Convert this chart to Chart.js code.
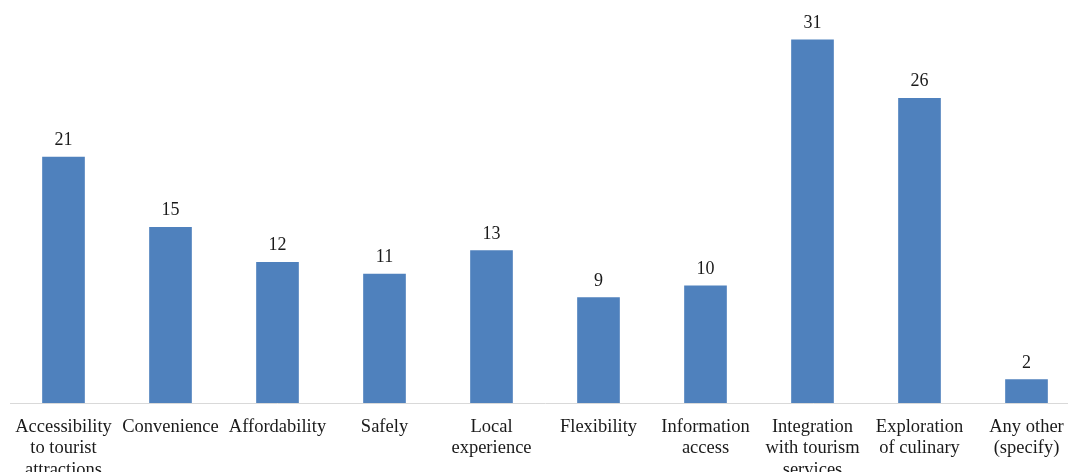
<!DOCTYPE html>
<html>
<head>
<meta charset="utf-8">
<script src="https://cdn.jsdelivr.net/npm/chart.js@4.4.1/dist/chart.umd.min.js"></script>
<style>
  html, body { margin: 0; padding: 0; background: #ffffff; overflow: hidden; }
  #wrap { position: relative; width: 1090px; height: 472px; }
</style>
</head>
<body>
<div id="wrap"><canvas id="barChart"></canvas></div>
<script>
  // ----------------------------- Data ---------------------------------------
  const categories = [
    ['Accessibility', 'to tourist', 'attractions'],
    ['Convenience'],
    ['Affordability'],
    ['Safely'],
    ['Local', 'experience'],
    ['Flexibility'],
    ['Information', 'access'],
    ['Integration', 'with tourism', 'services'],
    ['Exploration', 'of culinary'],
    ['Any other', '(specify)'],
  ];
  const counts = [21, 15, 12, 11, 13, 9, 10, 31, 26, 2];

  // ------------------------------ Colors ------------------------------------
  const COL = {
    bar: '#4f81bd',
    axis: '#d9d9d9',
    text: '#1a1a1a',
  };
  const FONT = "'Liberation Serif', 'Times New Roman', serif";

  // value labels above each bar
  const valueLabels = {
    id: 'valueLabels',
    afterDatasetsDraw(chart) {
      const { ctx } = chart;
      const meta = chart.getDatasetMeta(0);
      ctx.save();
      ctx.font = `18px ${FONT}`;
      ctx.fillStyle = COL.text;
      ctx.textAlign = 'center';
      ctx.textBaseline = 'alphabetic';
      meta.data.forEach((bar, i) => {
        ctx.fillText(String(counts[i]), bar.x, bar.y - 12);
      });
      ctx.restore();
    },
  };

  new Chart(document.getElementById('barChart').getContext('2d'), {
    type: 'bar',
    data: {
      labels: categories,
      datasets: [
        {
          data: counts,
          backgroundColor: COL.bar,
          borderWidth: 0,
          barThickness: 42,
        },
      ],
    },
    options: {
      responsive: true,
      maintainAspectRatio: false,
      animation: false,
      layout: { padding: { left: 10, right: 10, top: 0, bottom: 0 } },
      plugins: {
        legend: { display: false },
        tooltip: { enabled: false },
      },
      scales: {
        x: {
          grid: { display: false, drawTicks: false },
          border: { display: true, color: COL.axis, width: 1 },
          ticks: {
            autoSkip: false,
            maxRotation: 0,
            minRotation: 0,
            padding: 13,
            color: COL.text,
            font: { family: FONT, size: 18.5, lineHeight: 1.17 },
          },
          afterFit: (scale) => { scale.height = 69; },
        },
        y: {
          display: false,
          min: 0,
          max: 34.4,
        },
      },
    },
    plugins: [valueLabels],
  });
</script>
</body>
</html>
